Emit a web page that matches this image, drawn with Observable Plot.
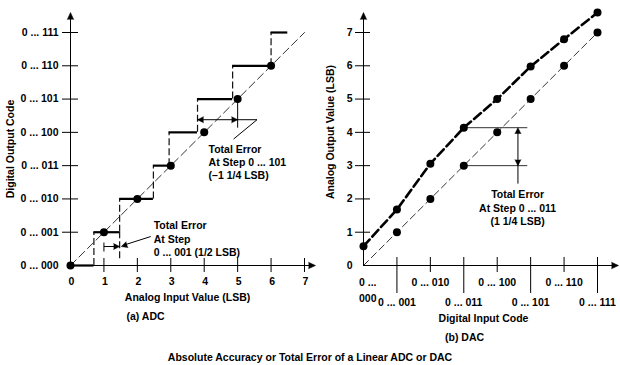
<!DOCTYPE html>
<html><head><meta charset="utf-8">
<script src="https://cdn.jsdelivr.net/npm/d3@7"></script>
<script src="https://cdn.jsdelivr.net/npm/@observablehq/plot@0.6"></script>
<style>
body{margin:0;background:#fff;}
#row{display:flex;width:620px;}
#title{font:bold 10.5px "Liberation Sans",Arial,sans-serif;text-align:center;width:620px;margin-top:2px;line-height:20px;color:#000;}
</style></head><body>
<div id="row"></div>
<div id="title"></div>
<script>
// ================= DATA =================
const titleText = "Absolute Accuracy or Total Error of a Linear ADC or DAC";

// (a) ADC
const adcCodes = [0, 1, 2, 3, 4, 5, 6, 7];
const adcCodeLabels = ["0 ... 000", "0 ... 001", "0 ... 010", "0 ... 011", "0 ... 100", "0 ... 101", "0 ... 110", "0 ... 111"];
const adcInputTicks = [0, 1, 2, 3, 4, 5, 6, 7];
const adcIdealDots = [0, 1, 2, 3, 4, 5, 6];
const adcStepLevels = [0, 1, 2, 3, 4, 5, 6, 7];
const adcStepStart = [0, 0.7, 1.47, 2.48, 2.95, 3.8, 4.85, 6.0];
const adcStepEnd = [0.7, 1.47, 2.48, 2.95, 3.8, 4.85, 6.0, 6.5];
const adcXTitle = "Analog Input Value (LSB)";
const adcYTitle = "Digital Output Code";
const adcCaption = "(a) ADC";
const adcNote1 = "Total Error\nAt Step\n0 ... 001 (1/2 LSB)";
const adcNote2 = "Total Error\nAt Step 0 ... 101\n(\u20131 1/4 LSB)";

// (b) DAC
const dacCodes = [0, 1, 2, 3, 4, 5, 6, 7];
const dacCodeLabels = ["0 ...\n000", "0 ... 001", "0 ... 010", "0 ... 011", "0 ... 100", "0 ... 101", "0 ... 110", "0 ... 111"];
const dacLongTickCodes = [1, 3, 5, 7];
const dacShortTickCodes = [2, 4, 6];
const dacIdeal = [0, 1, 2, 3, 4, 5, 6, 7];
const dacActual = [0.58, 1.68, 3.06, 4.14, 5.0, 5.98, 6.8, 7.6];
const dacOutputTicks = [0, 1, 2, 3, 4, 5, 6, 7];
const dacXTitle = "Digital Input Code";
const dacYTitle = "Analog Output Value (LSB)";
const dacCaption = "(b) DAC";
const dacNote = "Total Error\nAt Step 0 ... 011\n(1 1/4 LSB)";

// ================= LAYOUT =================
const H = 345;
const svgStyle = 'font-family:"Liberation Sans",Arial,sans-serif;font-size:10.5px;font-weight:bold;overflow:visible;background:#fff;color:#000;';
const head = (data, o) => Plot.vector(data, {shape: "spike", anchor: "end", length: 7, r: 3.2, fill: "black", stroke: "black", strokeWidth: 0.5, ...o});
const intFmt = d => String(d);

// ---------- (a) ADC ----------
const xArrowA = 7.33, yArrowA = 7.6;
const left = Plot.plot({
  width: 318, height: H,
  marginLeft: 70, marginRight: 14, marginTop: 32, marginBottom: 80,
  style: svgStyle,
  x: {domain: [0, 7], axis: null},
  y: {domain: [0, 7], axis: null},
  marks: [
    // ideal transfer (dashed diagonal)
    Plot.line(adcInputTicks, {x: d => d, y: d => d, stroke: "#333", strokeWidth: 1, strokeDasharray: "8,4"}),
    // risers (dashed)
    Plot.ruleX(d3.range(adcStepLevels.length - 1), {x: i => adcStepEnd[i], y1: i => adcStepLevels[i], y2: i => adcStepLevels[i + 1], stroke: "#111", strokeWidth: 1.2, strokeDasharray: "7,3"}),
    // steps
    Plot.ruleY(adcStepLevels, {y: d => d, x1: (d, i) => adcStepStart[i], x2: (d, i) => adcStepEnd[i], stroke: "#000", strokeWidth: 2.2}),
    // axes lines + arrows
    Plot.ruleY([0], {x1: 0, x2: xArrowA - 0.15, stroke: "#000", strokeWidth: 1}),
    Plot.ruleX([0], {y1: 0, y2: yArrowA - 0.15, stroke: "#000", strokeWidth: 1}),
    head([0], {x: xArrowA, y: 0, rotate: 90}),
    head([0], {x: 0, y: yArrowA, rotate: 0}),
    // axis ticks and labels
    Plot.axisY({ticks: adcCodes.slice(1), tickSize: 16, dx: 8, text: null, label: null}),
    Plot.axisY({ticks: adcCodes, tickSize: 0, tickPadding: 12, tickFormat: i => adcCodeLabels[i], label: null, fill: "#000"}),
    Plot.axisX({ticks: adcInputTicks.slice(1), tickSize: 14, dy: -7, text: null, label: null}),
    Plot.axisX({ticks: adcInputTicks, tickSize: 0, tickPadding: 12, tickFormat: intFmt, label: null, fill: "#000", dx: 1}),
    Plot.text([adcXTitle], {frameAnchor: "bottom", lineAnchor: "middle", dy: 32, fill: "#000"}),
    Plot.text([adcYTitle], {frameAnchor: "left", textAnchor: "middle", dx: -60, rotate: -90, fill: "#000"}),
    Plot.text([adcCaption], {frameAnchor: "bottom", lineAnchor: "middle", dx: -42, dy: 51, fill: "#000"}),
    // annotation: step 001
    Plot.ruleX([0], {x: adcStepEnd[1], y1: 0.2, y2: 1, stroke: "#111", strokeWidth: 1.2, strokeDasharray: "7,3"}),
    Plot.link([0], {x1: 1, x2: adcStepEnd[1] - 0.1, y1: 0.57, y2: 0.57, stroke: "#000", strokeWidth: 1}),
    Plot.link([0], {x1: 1, x2: 1, y1: 0.42, y2: 0.69, stroke: "#000", strokeWidth: 1}),
    head([0], {x: adcStepEnd[1], y: 0.57, rotate: 90, length: 6, r: 3}),
    Plot.link([0], {x1: 2.4, y1: 0.87, x2: 1.62, y2: 0.62, stroke: "#000", strokeWidth: 1}),
    head([0], {x: adcStepEnd[1] + 0.05, y: 0.57, rotate: 252, length: 6, r: 3}),
    Plot.text([adcNote1], {x: 2.49, y: 0.82, textAnchor: "start", lineHeight: 1.29, fill: "#000"}),
    // annotation: step 101
    Plot.link([0], {x1: adcStepEnd[4], x2: 5.58, y1: 4.38, y2: 4.38, stroke: "#000", strokeWidth: 1}),
    head([0], {x: adcStepEnd[4], y: 4.38, rotate: 270, length: 6, r: 3}),
    head([0], {x: 5, y: 4.38, rotate: 90, length: 6, r: 3}),
    Plot.link([0], {x1: 5, x2: 5, y1: 5, y2: 4.14, stroke: "#000", strokeWidth: 1}),
    Plot.link([0], {x1: 5.58, y1: 4.38, x2: 4.88, y2: 3.8, stroke: "#000", strokeWidth: 1}),
    Plot.text([adcNote2], {x: 4.13, y: 3.12, textAnchor: "start", lineHeight: 1.25, fill: "#000"}),
    // ideal points
    Plot.dot(adcIdealDots, {x: d => d, y: d => d, r: 4, fill: "#000"})
  ]
});

// ---------- (b) DAC ----------
const xArrowB = 7.63, yArrowB = 7.6;
const right = Plot.plot({
  width: 302, height: H,
  marginLeft: 45, marginRight: 23, marginTop: 32, marginBottom: 80,
  style: svgStyle,
  x: {domain: [0, 7], axis: null},
  y: {domain: [0, 7], axis: null},
  marks: [
    // annotation lines
    Plot.link([0], {x1: 3, x2: 4.9, y1: dacActual[3], y2: dacActual[3], stroke: "#333", strokeWidth: 1}),
    Plot.link([0], {x1: 3, x2: 4.9, y1: dacIdeal[3], y2: dacIdeal[3], stroke: "#333", strokeWidth: 1}),
    Plot.link([0], {x1: 4.62, x2: 4.62, y1: dacActual[3] - 0.1, y2: 2.46, stroke: "#000", strokeWidth: 1}),
    head([0], {x: 4.62, y: dacActual[3], rotate: 0, length: 6, r: 3}),
    head([0], {x: 4.62, y: dacIdeal[3], rotate: 180, length: 6, r: 3}),
    Plot.text([dacNote], {x: 4.61, y: 1.74, textAnchor: "middle", lineHeight: 1.28, fill: "#000"}),
    // ideal (thin dashed) and actual (thick dashed)
    Plot.line(dacCodes, {x: d => d, y: (d, i) => dacIdeal[i], stroke: "#333", strokeWidth: 1, strokeDasharray: "7,4"}),
    Plot.line(dacCodes, {x: d => d, y: (d, i) => dacActual[i], stroke: "#000", strokeWidth: 2.6, strokeDasharray: "9,4"}),
    // axes
    Plot.ruleY([0], {x1: 0, x2: xArrowB - 0.15, stroke: "#000", strokeWidth: 1}),
    Plot.ruleX([0], {y1: 0, y2: yArrowB - 0.15, stroke: "#000", strokeWidth: 1}),
    head([0], {x: xArrowB, y: 0, rotate: 90}),
    head([0], {x: 0, y: yArrowB, rotate: 0}),
    Plot.axisY({ticks: dacOutputTicks.slice(1), tickSize: 15, dx: 7, text: null, label: null}),
    Plot.axisY({ticks: dacOutputTicks, tickSize: 0, tickPadding: 11, tickFormat: intFmt, label: null, fill: "#000"}),
    Plot.axisX({ticks: dacLongTickCodes, tickSize: 36, dy: -8, tickPadding: 5, tickFormat: i => dacCodeLabels[i], label: null, fill: "#000"}),
    Plot.axisX({ticks: dacShortTickCodes, tickSize: 15, dy: -8, tickPadding: 6, tickFormat: i => dacCodeLabels[i], label: null, fill: "#000"}),
    Plot.text([dacCodes[0]], {x: d => d, text: d => dacCodeLabels[d], frameAnchor: "bottom", dy: 9, dx: 13, textAnchor: "end", lineAnchor: "top", lineHeight: 1.52, fill: "#000"}),
    Plot.text([dacXTitle], {frameAnchor: "bottom", lineAnchor: "middle", dx: 3, dy: 53, fill: "#000"}),
    Plot.text([dacYTitle], {frameAnchor: "left", textAnchor: "middle", dx: -33, dy: -17, rotate: -90, fill: "#000"}),
    Plot.text([dacCaption], {frameAnchor: "bottom", lineAnchor: "middle", dx: -16, dy: 72, fill: "#000"}),
    // points
    Plot.dot(dacCodes.slice(1), {x: d => d, y: d => dacIdeal[d], r: 4, fill: "#000"}),
    Plot.dot(dacCodes, {x: d => d, y: (d, i) => dacActual[i], r: 4, fill: "#000"})
  ]
});

document.getElementById("row").append(left, right);
document.getElementById("title").textContent = titleText;
</script>
</body></html>
